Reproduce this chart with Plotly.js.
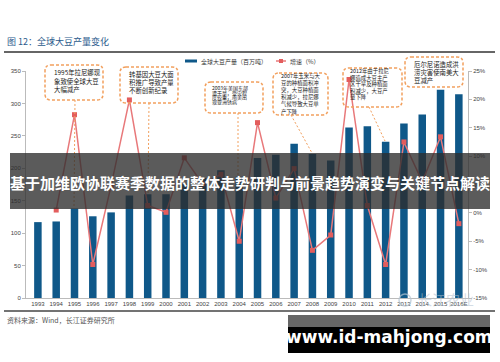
<!DOCTYPE html>
<html><head><meta charset="utf-8">
<script src="https://cdn.plot.ly/plotly-3.0.1.min.js"></script>
<style>html,body{margin:0;padding:0;background:#fff;}#chart{width:500px;height:362px;}</style>
</head><body><div id="chart"></div>
<script>
const years = ["1993","1994","1995","1996","1997","1998","1999","2000","2001","2002","2003","2004","2005","2006","2007","2008","2009","2010","2011","2012","2013","2014","2015","2016E"];
const production = [117,118,138,126,132,158,160,160,176,185,197,187,216,221,238,222,212,263,265,241,269,283,321,314];
const growthPct = [null,0.5,17.3,-9.1,4.8,19.9,1.3,0.1,9.7,5.1,6.8,-5.0,15.9,2.6,7.8,-6.6,-3.9,23.5,1.3,-9.1,12.5,5.5,13.4,-1.9];
const leftTicks = [0,50,100,150,200,250,300,350];
const rightTicks = [-0.15,-0.10,-0.05,0,0.05,0.10,0.15,0.20,0.25];
const rightTickText = ["-15%","-10%","-5%","0%","5%","10%","15%","20%","25%"];
const seriesNames = ["全球大豆产量（百万吨）","增速（%）"];
const notes = [
  "1995年拉尼娜现<br>象致使全球大豆<br>大幅减产",
  "转基因大豆大面<br>积推广导致产量<br>不断创新纪录",
  "2003年美国东部<br>遭干旱，受灾程<br>度较重，南美出<br>现亚洲锈病",
  "2007年玉米与大<br>豆的种植面积冲<br>突，大豆种植面<br>积减少，拉尼娜<br>气候导致大豆单<br>产下降",
  "2012年由于拉尼<br>娜造成大豆主产<br>区干旱及种植面<br>积减少，大豆产<br>量下降",
  "厄尔尼诺造成洪<br>涝灾害使南美大<br>豆减产"
];

const W=500,H=362,L=26,R=32,T=71,B=64;
const pw=W-L-R, ph=H-T-B;
const X=px=>(px-L)/pw, Y=py=>(H-B-py)/ph;
const CJK='"Noto Sans CJK SC", "Noto Sans", sans-serif';
const orange='#f2a05e';

function rr(x0,y0,x1,y1,r){
  const p=(a,b)=>X(a)+','+Y(b);
  return `M ${p(x0+r,y0)} L ${p(x1-r,y0)} Q ${p(x1,y0)} ${p(x1,y0+r)} L ${p(x1,y1-r)} Q ${p(x1,y1)} ${p(x1-r,y1)} L ${p(x0+r,y1)} Q ${p(x0,y1)} ${p(x0,y1-r)} L ${p(x0,y0+r)} Q ${p(x0,y0)} ${p(x0+r,y0)} Z`;
}
const shapes=[], annotations=[];
const boxes=[[45,65,103,100],[120,67,178,103],[205,82,263,113],[273,73,328,115],[343,68,402,107],[405,57,463,87]];
const noteText=[[52,73,6.4,8.3],[127,74,6.4,8.3],[210,88,5,4.7],[279,76,5.4,7.1],[348,71,5.4,6.6],[412,64,6.4,8.3]];
boxes.forEach(b=>shapes.push({type:'path',xref:'paper',yref:'paper',path:rr(b[0],b[1],b[2],b[3],6),line:{color:orange,width:1.5,dash:'3px,2px'},layer:'above'}));
const leaders=[[75,100,74,207],[149,103,148,193],[238,113,238,178],[291,115,312,153],[369,107,385,141]];
leaders.forEach(l=>shapes.push({type:'line',xref:'paper',yref:'paper',x0:X(l[0]),y0:Y(l[1]),x1:X(l[2]),y1:Y(l[3]),line:{color:orange,width:1,dash:'2px,2px'},layer:'above'}));
notes.forEach((t,i)=>{
  const n=noteText[i];
  const lines=t.split('<br>');
  lines.forEach((ln,j)=>annotations.push({xref:'paper',yref:'paper',x:X(n[0]),y:Y(n[1]+j*n[3]),xanchor:'left',yanchor:'middle',text:ln,showarrow:false,font:{family:CJK,size:n[2],color:'#222'}}));
});
// title & rules
annotations.push({xref:'paper',yref:'paper',x:X(5),y:Y(42),xanchor:'left',yanchor:'middle',text:'图 12：全球大豆产量变化',showarrow:false,font:{family:CJK,size:9,color:'#2b5b8c'}});
shapes.push({type:'line',xref:'paper',yref:'paper',x0:X(4),x1:X(495),y0:Y(52),y1:Y(52),line:{color:'#333',width:1.5}});
shapes.push({type:'line',xref:'paper',yref:'paper',x0:X(4),x1:X(495),y0:Y(311),y1:Y(311),line:{color:'#444',width:1.5}});
annotations.push({xref:'paper',yref:'paper',x:X(5),y:Y(320),xanchor:'left',yanchor:'middle',text:'资料来源：Wind，长江证券研究所',showarrow:false,font:{family:CJK,size:7,color:'#555'}});
// legend
shapes.push({type:'rect',xref:'paper',yref:'paper',x0:X(185),x1:X(197),y0:Y(59.5),y1:Y(62.5),fillcolor:'#0f5889',line:{width:0}});
annotations.push({xref:'paper',yref:'paper',x:X(199),y:Y(61),xanchor:'left',yanchor:'middle',text:seriesNames[0],showarrow:false,font:{family:CJK,size:6,color:'#333'}});
shapes.push({type:'line',xref:'paper',yref:'paper',x0:X(276),x1:X(286),y0:Y(61),y1:Y(61),line:{color:'#e8787a',width:1.5}});
shapes.push({type:'rect',xref:'paper',yref:'paper',x0:X(279),x1:X(283),y0:Y(59),y1:Y(63),fillcolor:'#e35d5d',line:{width:0}});
annotations.push({xref:'paper',yref:'paper',x:X(288),y:Y(61),xanchor:'left',yanchor:'middle',text:seriesNames[1],showarrow:false,font:{family:CJK,size:6,color:'#333'}});
// faint watermark logo
shapes.push({type:'circle',xref:'paper',yref:'paper',x0:X(399),x1:X(411),y0:Y(294),y1:Y(306),line:{color:'rgba(180,195,210,0.7)',width:1.5},layer:'above'});
annotations.push({xref:'paper',yref:'paper',x:X(416),y:Y(299),xanchor:'left',yanchor:'middle',text:'长江农业',showarrow:false,font:{family:CJK,size:14,color:'rgba(175,190,205,0.55)'}});
// banner overlay
shapes.push({type:'rect',xref:'paper',yref:'paper',x0:X(10),x1:X(490),y0:Y(153),y1:Y(209),fillcolor:'rgba(45,45,45,0.78)',line:{width:0},layer:'above'});
annotations.push({xref:'paper',yref:'paper',x:X(250),y:Y(182),xanchor:'center',yanchor:'middle',text:'<b>基于加维欧协联赛季数据的整体走势研判与前景趋势演变与关键节点解读</b>',showarrow:false,font:{family:CJK,size:15,color:'#fff'}});
// site watermark
shapes.push({type:'rect',xref:'paper',yref:'paper',x0:X(288),x1:X(490),y0:Y(315),y1:Y(327),fillcolor:'#666',line:{width:0},layer:'above'});
shapes.push({type:'rect',xref:'paper',yref:'paper',x0:X(288),x1:X(490),y0:Y(327),y1:Y(353),fillcolor:'#000',line:{width:0},layer:'above'});
annotations.push({xref:'paper',yref:'paper',x:X(389),y:Y(337),xanchor:'center',yanchor:'middle',text:'<b>www.id-mahjong.com</b>',showarrow:false,font:{family:'"DejaVu Sans", sans-serif',size:17,color:'#fff'}});

const traces=[
  {type:'bar',x:years,y:production,name:seriesNames[0],marker:{color:'#0f5889'},yaxis:'y',hoverinfo:'none'},
  {type:'scatter',mode:'lines+markers',x:years,y:growthPct.map(v=>v===null?null:v/100),name:seriesNames[1],yaxis:'y2',line:{color:'#e8787a',width:1.5},marker:{color:'#e35d5d',symbol:'square',size:5},connectgaps:false,hoverinfo:'none'}
];
const tickFont={family:'"Liberation Sans", Arial, sans-serif',size:6,color:'#444'};
const layout={
  width:W,height:H,margin:{l:L,r:R,t:T,b:B,pad:0},
  paper_bgcolor:'#fff',plot_bgcolor:'#fff',showlegend:false,bargap:0.59,
  xaxis:{type:'category',range:[-0.65,23.5],showgrid:false,zeroline:false,showline:true,linecolor:'#bbb',linewidth:1,ticks:'',tickfont:tickFont,fixedrange:true},
  yaxis:{range:[0,350],tickvals:leftTicks,showgrid:false,zeroline:false,showline:true,linecolor:'#bbb',ticks:'outside',ticklen:3,tickcolor:'#bbb',tickfont:tickFont},
  yaxis2:{overlaying:'y',side:'right',range:[-0.15,0.25],tickvals:rightTicks,ticktext:rightTickText,showgrid:false,zeroline:false,showline:true,linecolor:'#bbb',ticks:'outside',ticklen:3,tickcolor:'#bbb',tickfont:tickFont},
  shapes:shapes,annotations:annotations
};
Plotly.newPlot('chart',traces,layout,{staticPlot:true});
</script></body></html>
